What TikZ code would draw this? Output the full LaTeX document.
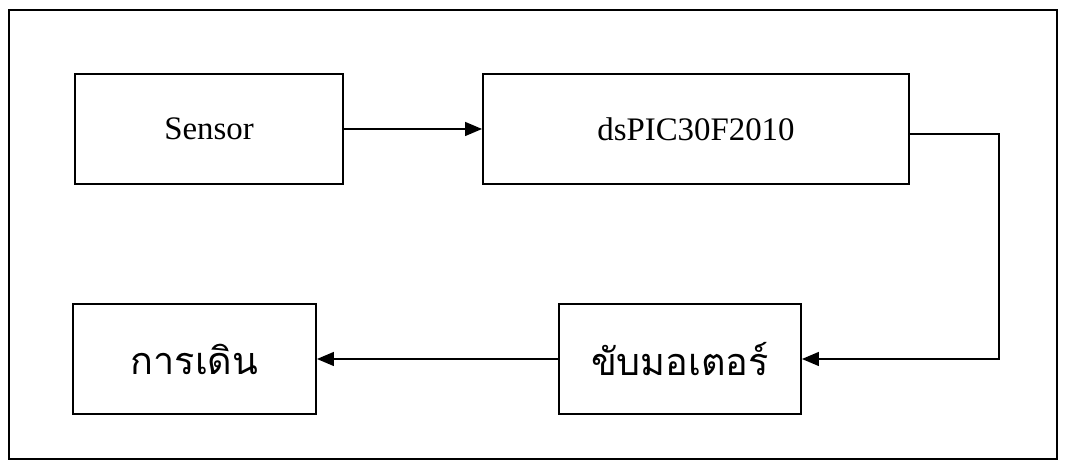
\documentclass[tikz,border=0pt]{standalone}
\usepackage{fontspec}
\setmainfont{Liberation Serif}
\newfontfamily\thaifont[Script=Thai]{Loma}
\usepackage{tikz}
\usetikzlibrary{arrows.meta, positioning}

\begin{document}
\begin{tikzpicture}[
    blk/.style={draw, line width=1.1pt, minimum height=2.2cm, font=\fontsize{18.7}{22}\selectfont},
    thai/.style={font=\thaifont\fontsize{21.5}{26}\selectfont},
    arr/.style={-{Triangle[length=3.4mm, width=2.8mm]}, line width=0.8pt},
    >=Triangle
]
\useasboundingbox (0,0) rectangle (21.52,9.28);

% frame
\draw[line width=1.1pt] (0.18,0.1) rectangle (21.14,9.08);

% top row
\node[blk, minimum width=5.36cm] (sensor) at (4.18, 6.7) {Sensor};
\node[blk, minimum width=8.52cm] (dspic) at (13.92, 6.7) {dsPIC30F2010};

% bottom row
\node[blk, thai, minimum width=4.86cm] (walk) at (3.89, 2.1) {การเดิน};
\node[blk, thai, minimum width=4.84cm] (motor) at (13.6, 2.1) {ขับมอเตอร์};

% connectors
\coordinate (turn) at (19.98, 6.6);
\draw[arr] (sensor) -- (dspic);
\draw[arr] (dspic.east |- turn) -- (turn) |- (motor.east);
\draw[arr] (motor) -- (walk);

\end{tikzpicture}
\end{document}
